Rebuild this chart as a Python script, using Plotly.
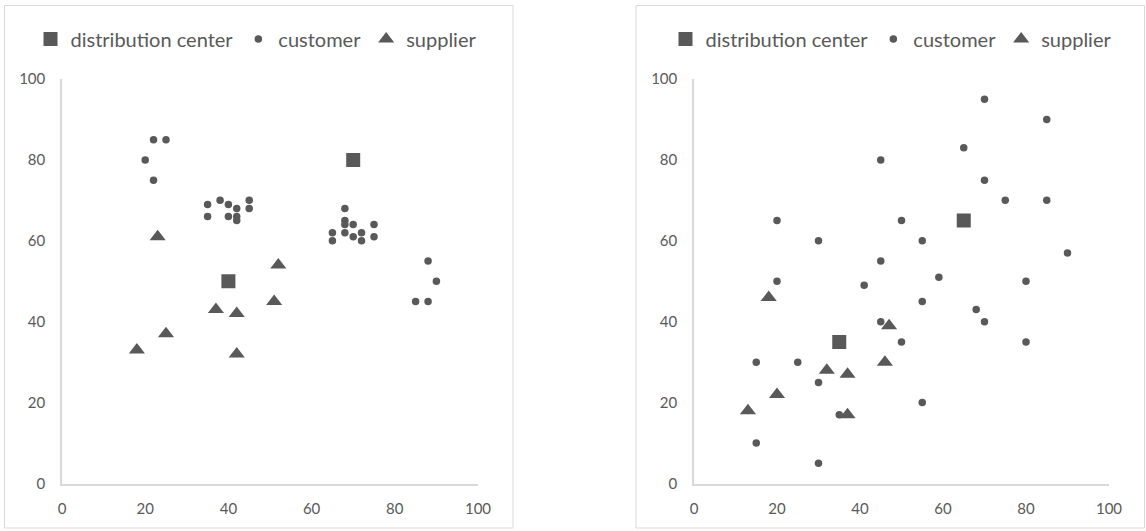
import plotly.graph_objects as go

# ---------------- data ----------------
left_dc_x = [40, 70]
left_dc_y = [50, 80]
left_cust_x = [22, 25, 20, 22,
               35, 35, 38, 40, 42, 42, 42, 40, 45, 45,
               68, 68, 68, 70, 75, 65, 65, 68, 70, 72, 72, 75,
               88, 90, 85, 88]
left_cust_y = [85, 85, 80, 75,
               69, 66, 70, 69, 68, 66, 65, 66, 70, 68,
               68, 65, 64, 64, 64, 62, 60, 62, 61, 62, 60, 61,
               55, 50, 45, 45]
left_sup_x = [23, 18, 25, 37, 42, 42, 52, 51]
left_sup_y = [61, 33, 37, 43, 42, 32, 54, 45]

right_dc_x = [35, 65]
right_dc_y = [35, 65]
right_cust_x = [45, 20, 30, 45, 20, 41, 45, 55, 50, 15, 25, 30, 55, 35, 15, 30,
                59, 70, 85, 65, 70, 75, 85, 50, 55, 90, 80, 68, 70, 80]
right_cust_y = [80, 65, 60, 55, 50, 49, 40, 45, 35, 30, 30, 25, 20, 17, 10, 5,
                51, 95, 90, 83, 75, 70, 70, 65, 60, 57, 50, 43, 40, 35]
right_sup_x = [18, 47, 32, 37, 46, 20, 13, 37]
right_sup_y = [46, 39, 28, 27, 30, 22, 18, 17]

series_names = ["distribution center", "customer", "supplier"]
axis_ticks = [0, 20, 40, 60, 80, 100]

# ---------------- style ----------------
W, H = 1146, 531
MARK = "#595959"
TXT = "#595959"
GRID = "#d9d9d9"
FONT = "Lato, 'Open Sans', sans-serif"


def px_x(p):
    return p / W


def px_y(p):
    return 1 - p / H


fig = go.Figure()

panels = [
    (left_dc_x, left_dc_y, left_cust_x, left_cust_y, left_sup_x, left_sup_y, "x", "y", "legend"),
    (right_dc_x, right_dc_y, right_cust_x, right_cust_y, right_sup_x, right_sup_y, "x2", "y2", "legend2"),
]

for dcx, dcy, cx, cy, sx, sy, xa, ya, lg in panels:
    fig.add_trace(go.Scatter(x=dcx, y=dcy, mode="markers", name=series_names[0],
                             marker=dict(symbol="square", size=14, color=MARK),
                             xaxis=xa, yaxis=ya, legend=lg, hoverinfo="skip"))
    fig.add_trace(go.Scatter(x=cx, y=cy, mode="markers", name=series_names[1],
                             marker=dict(symbol="circle", size=7.5, color=MARK),
                             xaxis=xa, yaxis=ya, legend=lg, hoverinfo="skip"))
    fig.add_trace(go.Scatter(x=sx, y=sy, mode="markers", name=series_names[2],
                             marker=dict(symbol="triangle-up", size=14, color=MARK),
                             xaxis=xa, yaxis=ya, legend=lg, hoverinfo="skip"))

ydom = [px_y(483.5), px_y(79)]
axis_common = dict(range=[0, 100], tickvals=axis_ticks, showgrid=False, zeroline=False,
                   showline=True, linecolor=GRID, linewidth=1.5, ticks="", automargin=False,
                   tickfont=dict(family=FONT, size=15, color=TXT), fixedrange=True)

fig.update_layout(
    width=W, height=H,
    margin=dict(l=0, r=0, t=0, b=0, pad=0, autoexpand=False),
    paper_bgcolor="white", plot_bgcolor="white",
    font=dict(family=FONT, color=TXT),
    xaxis=dict(domain=[px_x(62), px_x(478)], anchor="y", ticklabelstandoff=11, **axis_common),
    yaxis=dict(domain=ydom, anchor="x", ticklabelstandoff=12, **axis_common),
    xaxis2=dict(domain=[px_x(694), px_x(1109)], anchor="y2", ticklabelstandoff=11, **axis_common),
    yaxis2=dict(domain=ydom, anchor="x2", ticklabelstandoff=12, **axis_common),
    legend=dict(orientation="h", x=px_x(256), y=px_y(39), xanchor="center", yanchor="middle",
                font=dict(family=FONT, size=20, color=TXT), itemwidth=30,
                bgcolor="rgba(0,0,0,0)"),
    legend2=dict(orientation="h", x=px_x(891), y=px_y(39), xanchor="center", yanchor="middle",
                 font=dict(family=FONT, size=20, color=TXT), itemwidth=30,
                 bgcolor="rgba(0,0,0,0)"),
    showlegend=True,
    shapes=[
        dict(type="rect", xref="paper", yref="paper", x0=px_x(4.5), x1=px_x(513), y0=px_y(528), y1=px_y(5.5),
             line=dict(color=GRID, width=1), fillcolor="rgba(0,0,0,0)", layer="below"),
        dict(type="rect", xref="paper", yref="paper", x0=px_x(636), x1=px_x(1144.5), y0=px_y(528), y1=px_y(5.5),
             line=dict(color=GRID, width=1), fillcolor="rgba(0,0,0,0)", layer="below"),
    ],
)

fig.write_html(
    "out.html",
    config={"displayModeBar": False},
    post_script="document.documentElement.style.margin='0';document.body.style.margin='0';"
                "document.body.style.padding='0';document.documentElement.style.overflow='hidden';",
)
